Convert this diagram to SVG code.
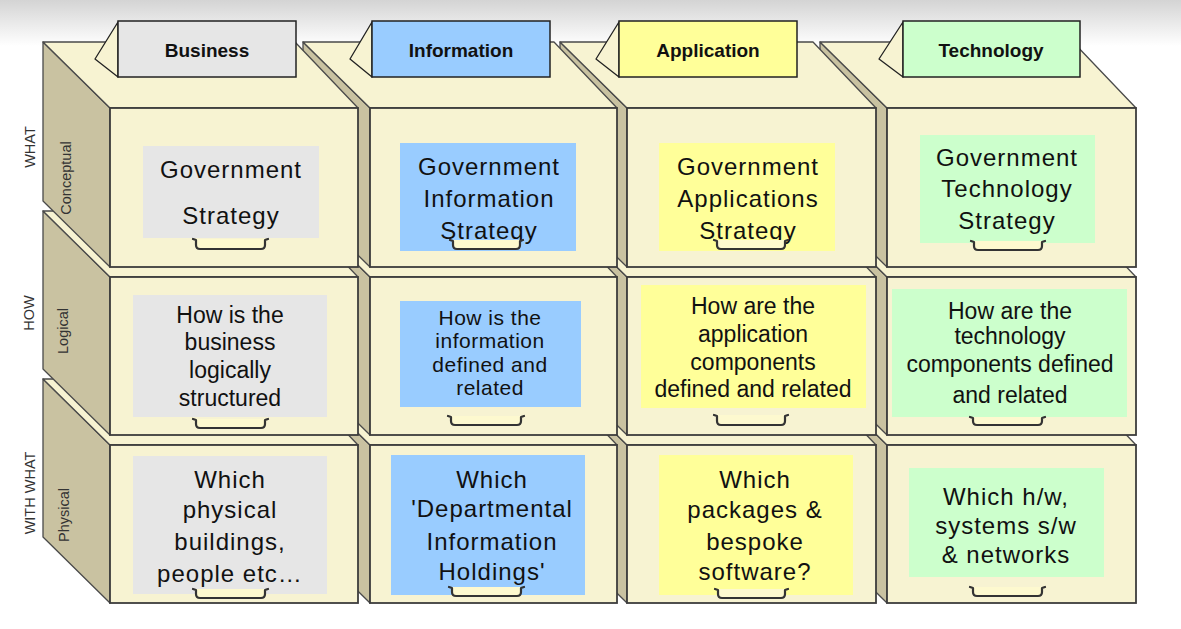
<svg xmlns="http://www.w3.org/2000/svg" width="1181" height="629" viewBox="0 0 1181 629">
<defs>
<linearGradient id="bg" x1="0" y1="0" x2="0" y2="1">
<stop offset="0" stop-color="#d4d4d4"/>
<stop offset="1" stop-color="#ffffff"/>
</linearGradient>
<style>
.side{fill:#c9c2a1;stroke:#4a4a4a;stroke-width:1.3;stroke-linejoin:round}
.top{fill:#f7f3d2;stroke:#4a4a4a;stroke-width:1.3;stroke-linejoin:round}
.front{fill:#f7f3d2;stroke:#3c3c3c;stroke-width:1.8}
.gray{fill:#e6e6e6}
.blue{fill:#99ccff}
.yellow{fill:#ffff99}
.green{fill:#ccffcc}
.handle{fill:#fdf9cf;stroke:#333;stroke-width:2.2;stroke-linecap:round;stroke-linejoin:round}
.flap{fill:#f7f3d2;stroke:#222;stroke-width:1.3;stroke-linejoin:round}
.tabr{stroke:#222;stroke-width:1.5}
.tab{font-family:"Liberation Sans",Arial,sans-serif;font-weight:bold;font-size:19px;fill:#111;text-anchor:middle}
.t1{font-family:"Liberation Sans",Arial,sans-serif;font-size:24px;letter-spacing:1px;fill:#111;text-anchor:middle}
.t2{font-family:"Liberation Sans",Arial,sans-serif;font-size:23px;fill:#111;text-anchor:middle}
.t3{font-family:"Liberation Sans",Arial,sans-serif;font-size:21px;letter-spacing:0.5px;fill:#111;text-anchor:middle}
.lbl{font-family:"Liberation Sans",Arial,sans-serif;font-size:14.5px;fill:#333;text-anchor:middle}
</style>
</defs>
<rect x="0" y="0" width="1181" height="629" fill="#ffffff"/>
<rect x="0" y="0" width="1181" height="46" fill="url(#bg)"/>

<!-- Row 3: Physical -->
<g id="physical-technology">
<polygon class="side" points="820,379 887,445 887,603 820,537"/>
<polygon class="top" points="820,379 1073,379 1136,445 887,445"/>
<rect class="front" x="887" y="445" width="249" height="158"/>
<rect class="green" x="909" y="468" width="195" height="109"/>
<text class="t1" x="1006" y="505">Which h/w,</text>
<text class="t1" x="1006" y="534">systems s/w</text>
<text class="t1" x="1006" y="563">&amp; networks</text>
<path class="handle" d="M970,587 L973,588 L973,592 Q973,596 977,596 L1038,596 Q1042,596 1042,592 L1042,588 L1045,587"/>
</g>
<g id="physical-application">
<polygon class="side" points="560,379 627,445 627,603 560,537"/>
<polygon class="top" points="560,379 813,379 876,445 627,445"/>
<rect class="front" x="627" y="445" width="249" height="158"/>
<rect class="yellow" x="659" y="455" width="194" height="140"/>
<text class="t1" x="755" y="488">Which</text>
<text class="t1" x="755" y="518">packages &amp;</text>
<text class="t1" x="755" y="550">bespoke</text>
<text class="t1" x="755" y="580">software?</text>
<path class="handle" d="M715,589 L718,590 L718,594 Q718,598 722,598 L781,598 Q785,598 785,594 L785,590 L788,589"/>
</g>
<g id="physical-information">
<polygon class="side" points="303,379 370,445 370,603 303,537"/>
<polygon class="top" points="303,379 554,379 617,445 370,445"/>
<rect class="front" x="370" y="445" width="247" height="158"/>
<rect class="blue" x="391" y="455" width="194" height="140"/>
<text class="t1" x="492" y="488">Which</text>
<text class="t1" x="492" y="517">'Departmental</text>
<text class="t1" x="492" y="550">Information</text>
<text class="t1" x="492" y="580">Holdings'</text>
<path class="handle" d="M449,587 L452,588 L452,592 Q452,596 456,596 L517,596 Q521,596 521,592 L521,588 L524,587"/>
</g>
<g id="physical-business">
<polygon class="side" points="43,379 110,445 110,603 43,537"/>
<polygon class="top" points="43,379 295,379 358,445 110,445"/>
<rect class="front" x="110" y="445" width="248" height="158"/>
<rect class="gray" x="133" y="456" width="194" height="138"/>
<text class="t1" x="230" y="488">Which</text>
<text class="t1" x="230" y="518">physical</text>
<text class="t1" x="230" y="550">buildings,</text>
<text class="t1" x="230" y="582">people etc…</text>
<path class="handle" d="M193,589 L196,590 L196,594 Q196,598 200,598 L261,598 Q265,598 265,594 L265,590 L268,589"/>
</g>

<!-- Row 2: Logical -->
<g id="logical-technology">
<polygon class="side" points="820,211 887,277 887,435 820,369"/>
<polygon class="top" points="820,211 1073,211 1136,277 887,277"/>
<rect class="front" x="887" y="277" width="249" height="158"/>
<rect class="green" x="892" y="289" width="235" height="128"/>
<text class="t2" x="1010" y="319">How are the</text>
<text class="t2" x="1010" y="344">technology</text>
<text class="t2" x="1010" y="372">components defined</text>
<text class="t2" x="1010" y="403">and related</text>
<path class="handle" d="M970,417 L973,418 L973,421 Q973,425 977,425 L1038,425 Q1042,425 1042,421 L1042,418 L1045,417"/>
</g>
<g id="logical-application">
<polygon class="side" points="560,211 627,277 627,435 560,369"/>
<polygon class="top" points="560,211 813,211 876,277 627,277"/>
<rect class="front" x="627" y="277" width="249" height="158"/>
<rect class="yellow" x="641" y="285" width="225" height="123"/>
<text class="t2" x="753" y="314">How are the</text>
<text class="t2" x="753" y="342">application</text>
<text class="t2" x="753" y="370">components</text>
<text class="t2" x="753" y="397">defined and related</text>
<path class="handle" d="M714,415 L717,416 L717,421 Q717,425 721,425 L781,425 Q785,425 785,421 L785,416 L788,415"/>
</g>
<g id="logical-information">
<polygon class="side" points="303,211 370,277 370,435 303,369"/>
<polygon class="top" points="303,211 554,211 617,277 370,277"/>
<rect class="front" x="370" y="277" width="247" height="158"/>
<rect class="blue" x="400" y="301" width="181" height="106"/>
<text class="t3" x="490" y="325">How is the</text>
<text class="t3" x="490" y="348">information</text>
<text class="t3" x="490" y="372">defined and</text>
<text class="t3" x="490" y="395">related</text>
<path class="handle" d="M448,416 L451,417 L451,421 Q451,425 455,425 L517,425 Q521,425 521,421 L521,417 L524,416"/>
</g>
<g id="logical-business">
<polygon class="side" points="43,211 110,277 110,435 43,369"/>
<polygon class="top" points="43,211 295,211 358,277 110,277"/>
<rect class="front" x="110" y="277" width="248" height="158"/>
<rect class="gray" x="133" y="295" width="194" height="122"/>
<text class="t2" x="230" y="323">How is the</text>
<text class="t2" x="230" y="350">business</text>
<text class="t2" x="230" y="378">logically</text>
<text class="t2" x="230" y="406">structured</text>
<path class="handle" d="M193,419 L196,420 L196,424 Q196,428 200,428 L261,428 Q265,428 265,424 L265,420 L268,419"/>
</g>

<!-- Row 1: Conceptual -->
<g id="conceptual-technology">
<polygon class="side" points="820,42 887,108 887,267 820,201"/>
<polygon class="top" points="820,42 1073,42 1136,108 887,108"/>
<rect class="front" x="887" y="108" width="249" height="159"/>
<rect class="green" x="920" y="135" width="175" height="108"/>
<text class="t1" x="1007" y="166">Government</text>
<text class="t1" x="1007" y="197">Technology</text>
<text class="t1" x="1007" y="229">Strategy</text>
<path class="handle" d="M971,241 L974,242 L974,246 Q974,250 978,250 L1038,250 Q1042,250 1042,246 L1042,242 L1045,241"/>
</g>
<g id="conceptual-application">
<polygon class="side" points="560,42 627,108 627,267 560,201"/>
<polygon class="top" points="560,42 813,42 876,108 627,108"/>
<rect class="front" x="627" y="108" width="249" height="159"/>
<rect class="yellow" x="659" y="143" width="176" height="108"/>
<text class="t1" x="748" y="175">Government</text>
<text class="t1" x="748" y="207">Applications</text>
<text class="t1" x="748" y="239">Strategy</text>
<path class="handle" d="M714,240 L717,241 L717,245 Q717,249 721,249 L781,249 Q785,249 785,245 L785,241 L788,240"/>
</g>
<g id="conceptual-information">
<polygon class="side" points="303,42 370,108 370,267 303,201"/>
<polygon class="top" points="303,42 554,42 617,108 370,108"/>
<rect class="front" x="370" y="108" width="247" height="159"/>
<rect class="blue" x="400" y="143" width="176" height="108"/>
<text class="t1" x="489" y="175">Government</text>
<text class="t1" x="489" y="207">Information</text>
<text class="t1" x="489" y="239">Strategy</text>
<path class="handle" d="M450,240 L453,241 L453,245 Q453,249 457,249 L516,249 Q520,249 520,245 L520,241 L523,240"/>
</g>
<g id="conceptual-business">
<polygon class="side" points="43,42 110,108 110,267 43,201"/>
<polygon class="top" points="43,42 295,42 358,108 110,108"/>
<rect class="front" x="110" y="108" width="248" height="159"/>
<rect class="gray" x="143" y="146" width="176" height="92"/>
<text class="t1" x="231" y="178">Government</text>
<text class="t1" x="231" y="224">Strategy</text>
<path class="handle" d="M193,239 L196,240 L196,245 Q196,249 200,249 L261,249 Q265,249 265,245 L265,240 L268,239"/>
</g>

<!-- Column tabs -->
<g id="tab-business">
<polygon class="flap" points="118,22 95,59 118,77"/>
<rect class="tabr gray" x="118" y="21" width="178" height="56"/>
<text class="tab" x="207" y="57">Business</text>
</g>
<g id="tab-information">
<polygon class="flap" points="372,22 350,59 372,77"/>
<rect class="tabr blue" x="372" y="21" width="178" height="56"/>
<text class="tab" x="461" y="57">Information</text>
</g>
<g id="tab-application">
<polygon class="flap" points="619,22 596,59 619,77"/>
<rect class="tabr yellow" x="619" y="21" width="178" height="56"/>
<text class="tab" x="708" y="57">Application</text>
</g>
<g id="tab-technology">
<polygon class="flap" points="903,22 879,59 903,77"/>
<rect class="tabr green" x="903" y="21" width="177" height="56"/>
<text class="tab" x="991" y="57">Technology</text>
</g>

<!-- Row labels -->
<g id="row-labels">
<text class="lbl" transform="translate(35,147) rotate(-90)">WHAT</text>
<text class="lbl" transform="translate(71,178) rotate(-90)">Conceptual</text>
<text class="lbl" transform="translate(34,313) rotate(-90)">HOW</text>
<text class="lbl" transform="translate(68,331) rotate(-90)">Logical</text>
<text class="lbl" transform="translate(35,493) rotate(-90)">WITH WHAT</text>
<text class="lbl" transform="translate(69,515) rotate(-90)">Physical</text>
</g>
<g id="connectors"></g>
</svg>
